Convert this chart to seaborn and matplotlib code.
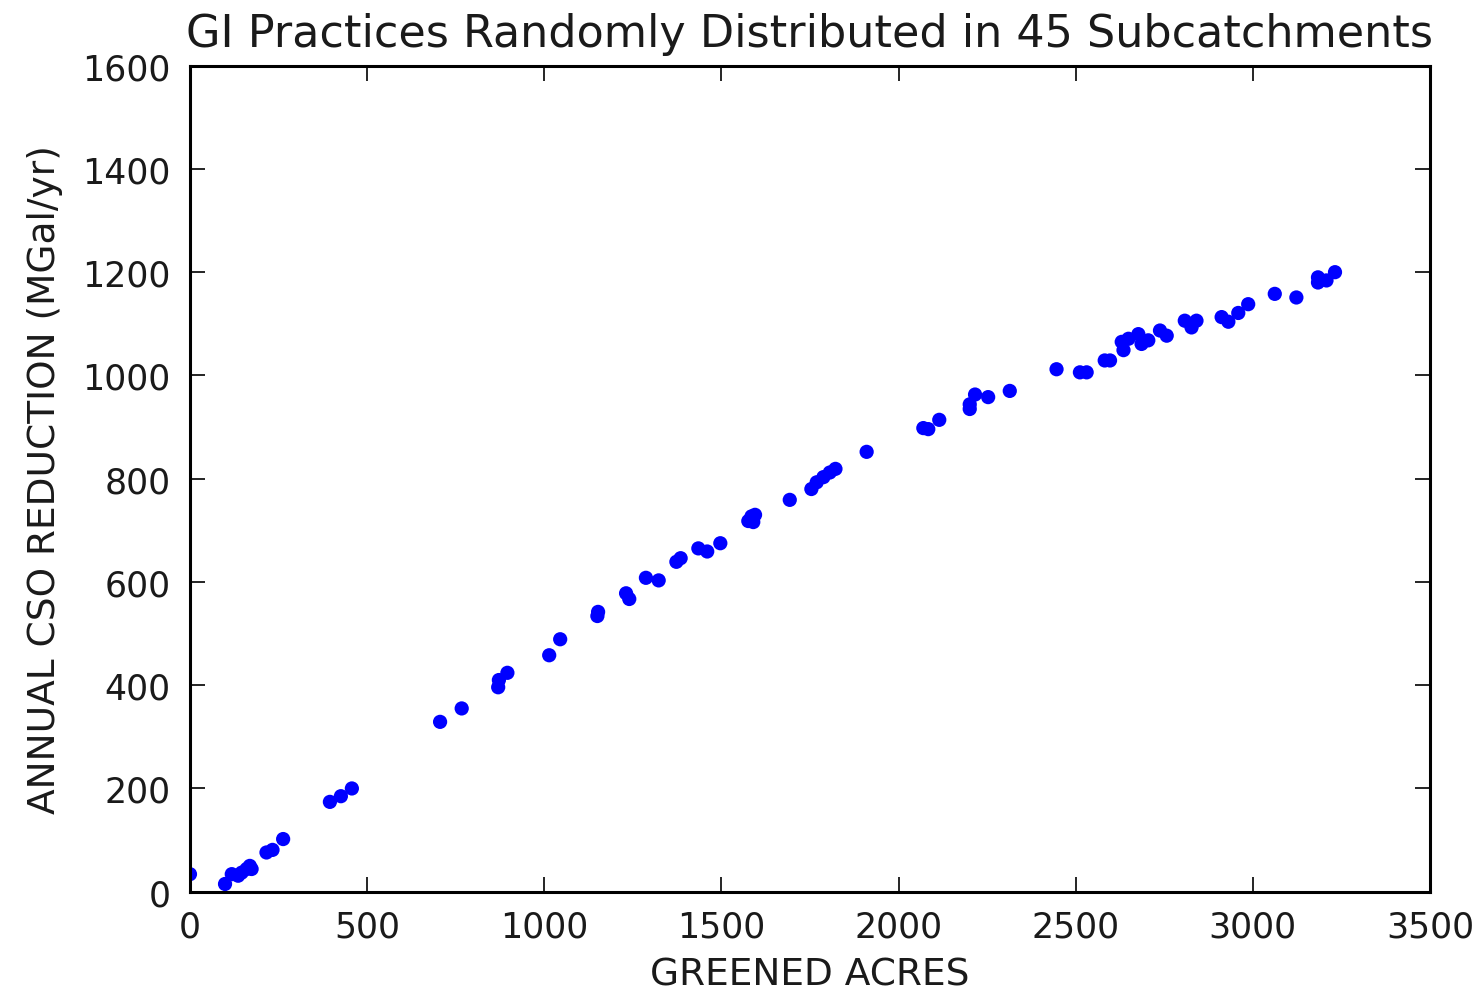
import matplotlib
matplotlib.use("Agg")
import matplotlib.pyplot as plt
import seaborn as sns
import pandas as pd

# Greened acres vs. annual CSO reduction for randomized GI placements
greened_acres = [
    0, 99, 118, 136, 146, 160, 169, 174, 216, 233, 263,
    395, 426, 457, 706, 767,
    870, 872, 896, 1014, 1045, 1150, 1152, 1231, 1240, 1287, 1323,
    1373, 1385, 1435, 1460, 1497, 1576, 1585, 1590, 1595, 1693,
    1754, 1769, 1788, 1806, 1822, 1910,
    2070, 2084, 2115, 2201, 2201, 2216, 2253, 2314,
    2446, 2512, 2531, 2582, 2597, 2630, 2635, 2649, 2677, 2686, 2705,
    2738, 2757, 2808, 2827, 2841, 2912, 2931, 2959, 2987,
    3062, 3123, 3184, 3184, 3208, 3232,
]
cso_reduction = [
    34, 15, 34, 31, 37, 44, 50, 44, 76, 81, 102,
    174, 185, 200, 329, 355,
    396, 410, 424, 458, 489, 534, 542, 578, 567, 608, 603,
    639, 646, 665, 659, 675, 718, 727, 716, 730, 759,
    780, 793, 803, 812, 819, 852,
    898, 896, 914, 944, 935, 963, 958, 970,
    1012, 1006, 1006, 1029, 1029, 1065, 1049, 1071, 1080, 1061, 1068,
    1087, 1077, 1106, 1093, 1106, 1113, 1104, 1121, 1138,
    1158, 1151, 1190, 1180, 1184, 1200,
]

df = pd.DataFrame({"acres": greened_acres, "cso": cso_reduction})

sns.set_style("white")
plt.rcParams["font.family"] = ["DejaVu Sans"]

fig = plt.figure(figsize=(14.76, 9.95), dpi=100)
ax = fig.add_axes([0.1287, 0.1028, 0.8401, 0.8302])

sns.scatterplot(data=df, x="acres", y="cso", ax=ax, color="#0000ff",
                s=105, linewidth=0, edgecolor="none", clip_on=True)

ax.set_xlim(0, 3500)
ax.set_ylim(0, 1600)
ax.set_xticks(range(0, 3501, 500))
ax.set_yticks(range(0, 1601, 200))

for side in ax.spines.values():
    side.set_visible(True)
    side.set_color("black")
    side.set_linewidth(2.2)

ax.tick_params(axis="both", which="major", direction="in", length=11,
               width=1.2, colors="black", labelsize=25,
               top=True, right=True, bottom=True, left=True)
ax.tick_params(axis="x", pad=13)
ax.tick_params(axis="y", pad=14)
for lbl in ax.get_xticklabels() + ax.get_yticklabels():
    lbl.set_color("#1a1a1a")

ax.set_xlabel("GREENED ACRES", fontsize=27, color="#1a1a1a", labelpad=9)
ax.set_ylabel("ANNUAL CSO REDUCTION (MGal/yr)", fontsize=27,
              color="#1a1a1a", labelpad=14)
ax.set_title("GI Practices Randomly Distributed in 45 Subcatchments",
             fontsize=32, color="#1a1a1a", pad=14)

fig.savefig("out.png", dpi=100, facecolor="white")
